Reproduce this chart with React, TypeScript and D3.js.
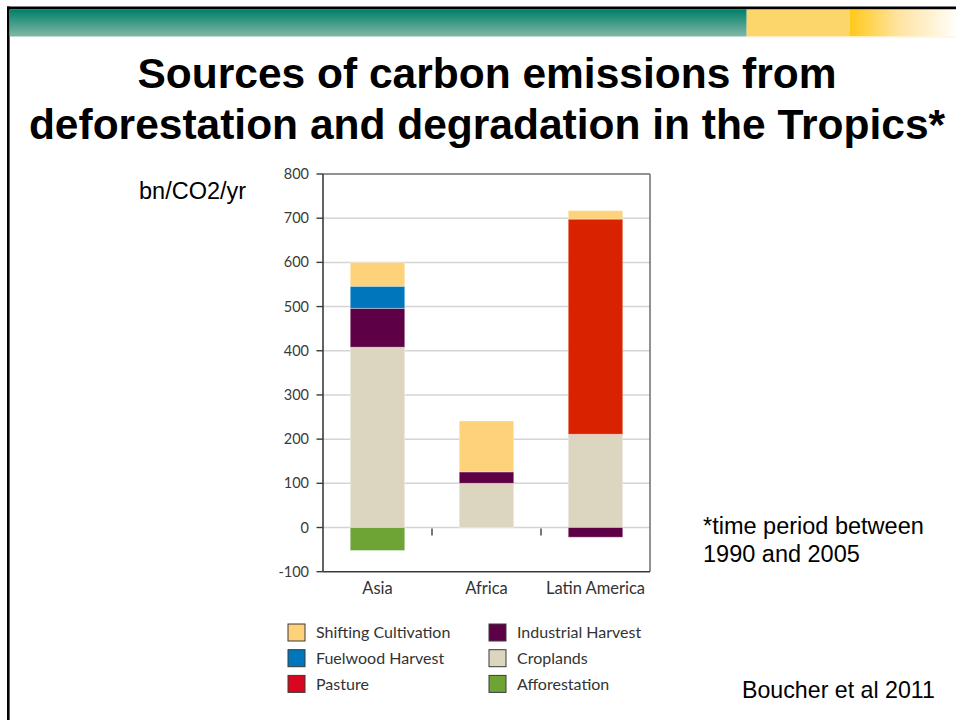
import React from "react";
import * as d3 from "d3";

// Emission sources (bn/CO2/yr), stacked per region
const categories = ["Asia", "Africa", "Latin America"];
const croplands = [408, 100, 211];
const pasture = [0, 0, 487];
const industrialHarvest = [88, 26, -22];
const fuelwoodHarvest = [50, 0, 0];
const shiftingCultivation = [54, 115, 19];
const afforestation = [-52, 0, 0];

const yTicks = [-100, 0, 100, 200, 300, 400, 500, 600, 700, 800];

const seriesDefs = [
  { key: "Croplands", values: croplands, fill: "#dcd5bf", legend: "#dcd5bf" },
  { key: "Pasture", values: pasture, fill: "#d82200", legend: "#d9061f" },
  { key: "Industrial Harvest", values: industrialHarvest, fill: "#5e0045", legend: "#5e0045" },
  { key: "Fuelwood Harvest", values: fuelwoodHarvest, fill: "#0077bd", legend: "#0077bd" },
  { key: "Shifting Cultivation", values: shiftingCultivation, fill: "#fed17b", legend: "#fed17b" },
  { key: "Afforestation", values: afforestation, fill: "#6ea336", legend: "#6ea336" },
];

const legendColumns = [
  ["Shifting Cultivation", "Fuelwood Harvest", "Pasture"],
  ["Industrial Harvest", "Croplands", "Afforestation"],
];

const CHART_FONT = "Lato, 'Open Sans', sans-serif";
const SLIDE_FONT = "'Liberation Sans', Arial, sans-serif";

export default function App() {
  const W = 956;
  const H = 720;
  const plot = { left: 323, right: 650, top: 174, bottom: 571.7 };

  const x = d3
    .scaleBand<string>()
    .domain(categories)
    .range([plot.left, plot.right])
    .paddingInner(0.5)
    .paddingOuter(0.25);
  const y = d3.scaleLinear().domain([-100, 800]).range([plot.bottom, plot.top]);

  const rows = categories.map((c, i) => {
    const r: Record<string, any> = { category: c };
    seriesDefs.forEach((s) => (r[s.key] = s.values[i]));
    return r;
  });
  const stacked = d3
    .stack<Record<string, any>>()
    .keys(seriesDefs.map((s) => s.key))
    .offset(d3.stackOffsetDiverging)(rows);

  const colorOf = (k: string) => seriesDefs.find((s) => s.key === k)!;
  const step = x.step();
  const bw = x.bandwidth();
  const dividers = categories.slice(0, -1).map((c) => (x(c) as number) + bw + (step - bw) / 2);

  return (
    <svg
      width={W}
      height={H}
      style={{ position: "absolute", left: 0, top: 0, background: "#fff" }}
    >
      <defs>
        <linearGradient id="teal" x1="0" y1="0" x2="0" y2="1">
          <stop offset="0" stopColor="#00806a" />
          <stop offset="1" stopColor="#82b7a6" />
        </linearGradient>
        <linearGradient id="gold" x1="0" y1="0" x2="1" y2="0">
          <stop offset="0" stopColor="#ffc91a" />
          <stop offset="0.45" stopColor="#ffe3a0" />
          <stop offset="1" stopColor="#fffefa" />
        </linearGradient>
      </defs>

      {/* slide banner and frame */}
      <rect x={7} y={6.5} width={W - 7} height={3} fill="#000" />
      <rect x={7} y={6.5} width={2.6} height={H - 6.5} fill="#000" />
      <rect x={9.6} y={9.5} width={746.7 - 9.6} height={27} fill="url(#teal)" />
      <rect x={746.7} y={9.5} width={850 - 746.7} height={27} fill="#fdd66b" />
      <rect x={850} y={9.5} width={W - 850} height={27} fill="url(#gold)" />
      <rect x={746.7} y={36.5} width={W - 746.7} height={1.2} fill="#fff3cc" />

      {/* title */}
      <text
        x={487}
        y={88}
        textAnchor="middle"
        fontFamily={SLIDE_FONT}
        fontWeight="bold"
        fontSize={42.5}
        fill="#000"
      >
        Sources of carbon emissions from
      </text>
      <text
        x={487}
        y={139}
        textAnchor="middle"
        fontFamily={SLIDE_FONT}
        fontWeight="bold"
        fontSize={42.5}
        fill="#000"
      >
        deforestation and degradation in the Tropics*
      </text>

      <text x={139} y={199} fontFamily={SLIDE_FONT} fontSize={23.5} fill="#000">
        bn/CO2/yr
      </text>

      {/* gridlines */}
      {yTicks
        .filter((t) => t > -100 && t < 800)
        .map((t) => (
          <line
            key={"g" + t}
            x1={plot.left}
            x2={plot.right}
            y1={y(t)}
            y2={y(t)}
            stroke="#d4d4d4"
            strokeWidth={1.5}
          />
        ))}

      {/* stacked bars */}
      {stacked.map((layer) =>
        layer.map((d, i) => {
          const v0 = d[0];
          const v1 = d[1];
          if (v0 === v1) return null;
          const top = y(Math.max(v0, v1));
          const bot = y(Math.min(v0, v1));
          return (
            <rect
              key={layer.key + i}
              x={x(categories[i])}
              y={top}
              width={bw}
              height={bot - top}
              fill={colorOf(layer.key).fill}
              stroke="#ffffff"
              strokeOpacity={0.35}
              strokeWidth={1}
            />
          );
        })
      )}

      {/* frame */}
      <line x1={plot.left} x2={plot.right} y1={plot.top} y2={plot.top} stroke="#6e6e6e" strokeWidth={1.5} />
      <line x1={plot.right} x2={plot.right} y1={plot.top} y2={plot.bottom} stroke="#6e6e6e" strokeWidth={1.5} />
      <line x1={plot.left} x2={plot.left} y1={plot.top} y2={plot.bottom} stroke="#3c3c3c" strokeWidth={1.6} />
      <line x1={plot.left} x2={plot.right} y1={plot.bottom} y2={plot.bottom} stroke="#3c3c3c" strokeWidth={1.6} />

      {/* y ticks and labels */}
      {yTicks.map((t) => (
        <g key={"t" + t}>
          <line x1={plot.left - 6.5} x2={plot.left} y1={y(t)} y2={y(t)} stroke="#3c3c3c" strokeWidth={1.4} />
          <text
            x={plot.left - 14}
            y={y(t)}
            dy="0.35em"
            textAnchor="end"
            fontFamily={CHART_FONT}
            fontSize={14.5}
            fill="#3a3a3a"
          >
            {t}
          </text>
        </g>
      ))}

      {/* category dividers on the zero line */}
      {dividers.map((dx, i) => (
        <line key={"d" + i} x1={dx} x2={dx} y1={y(0) + 1} y2={y(0) + 8} stroke="#3c3c3c" strokeWidth={1.4} />
      ))}

      {/* category labels */}
      {categories.map((c) => (
        <text
          key={c}
          x={(x(c) as number) + bw / 2}
          y={593.5}
          textAnchor="middle"
          fontFamily={CHART_FONT}
          fontSize={16.5}
          fill="#333"
        >
          {c}
        </text>
      ))}

      {/* legend */}
      {legendColumns.map((col, ci) =>
        col.map((k, ri) => {
          const lx = ci === 0 ? 288 : 489;
          const ly = 624 + ri * 25.7;
          return (
            <g key={k}>
              <rect
                x={lx}
                y={ly}
                width={17}
                height={17}
                fill={colorOf(k).legend}
                stroke="#3a3a3a"
                strokeWidth={1}
              />
              <text
                x={lx + 28}
                y={ly + 8.5}
                dy="0.36em"
                fontFamily={CHART_FONT}
                fontSize={16}
                fill="#333"
              >
                {k}
              </text>
            </g>
          );
        })
      )}

      {/* notes */}
      <text fontFamily={SLIDE_FONT} fontSize={23.5} fill="#000">
        <tspan x={703} y={533.5}>*time period between</tspan>
        <tspan x={703} y={562}>1990 and 2005</tspan>
      </text>
      <text x={742} y={697.5} fontFamily={SLIDE_FONT} fontSize={23.2} fill="#000">
        Boucher et al 2011
      </text>
    </svg>
  );
}
